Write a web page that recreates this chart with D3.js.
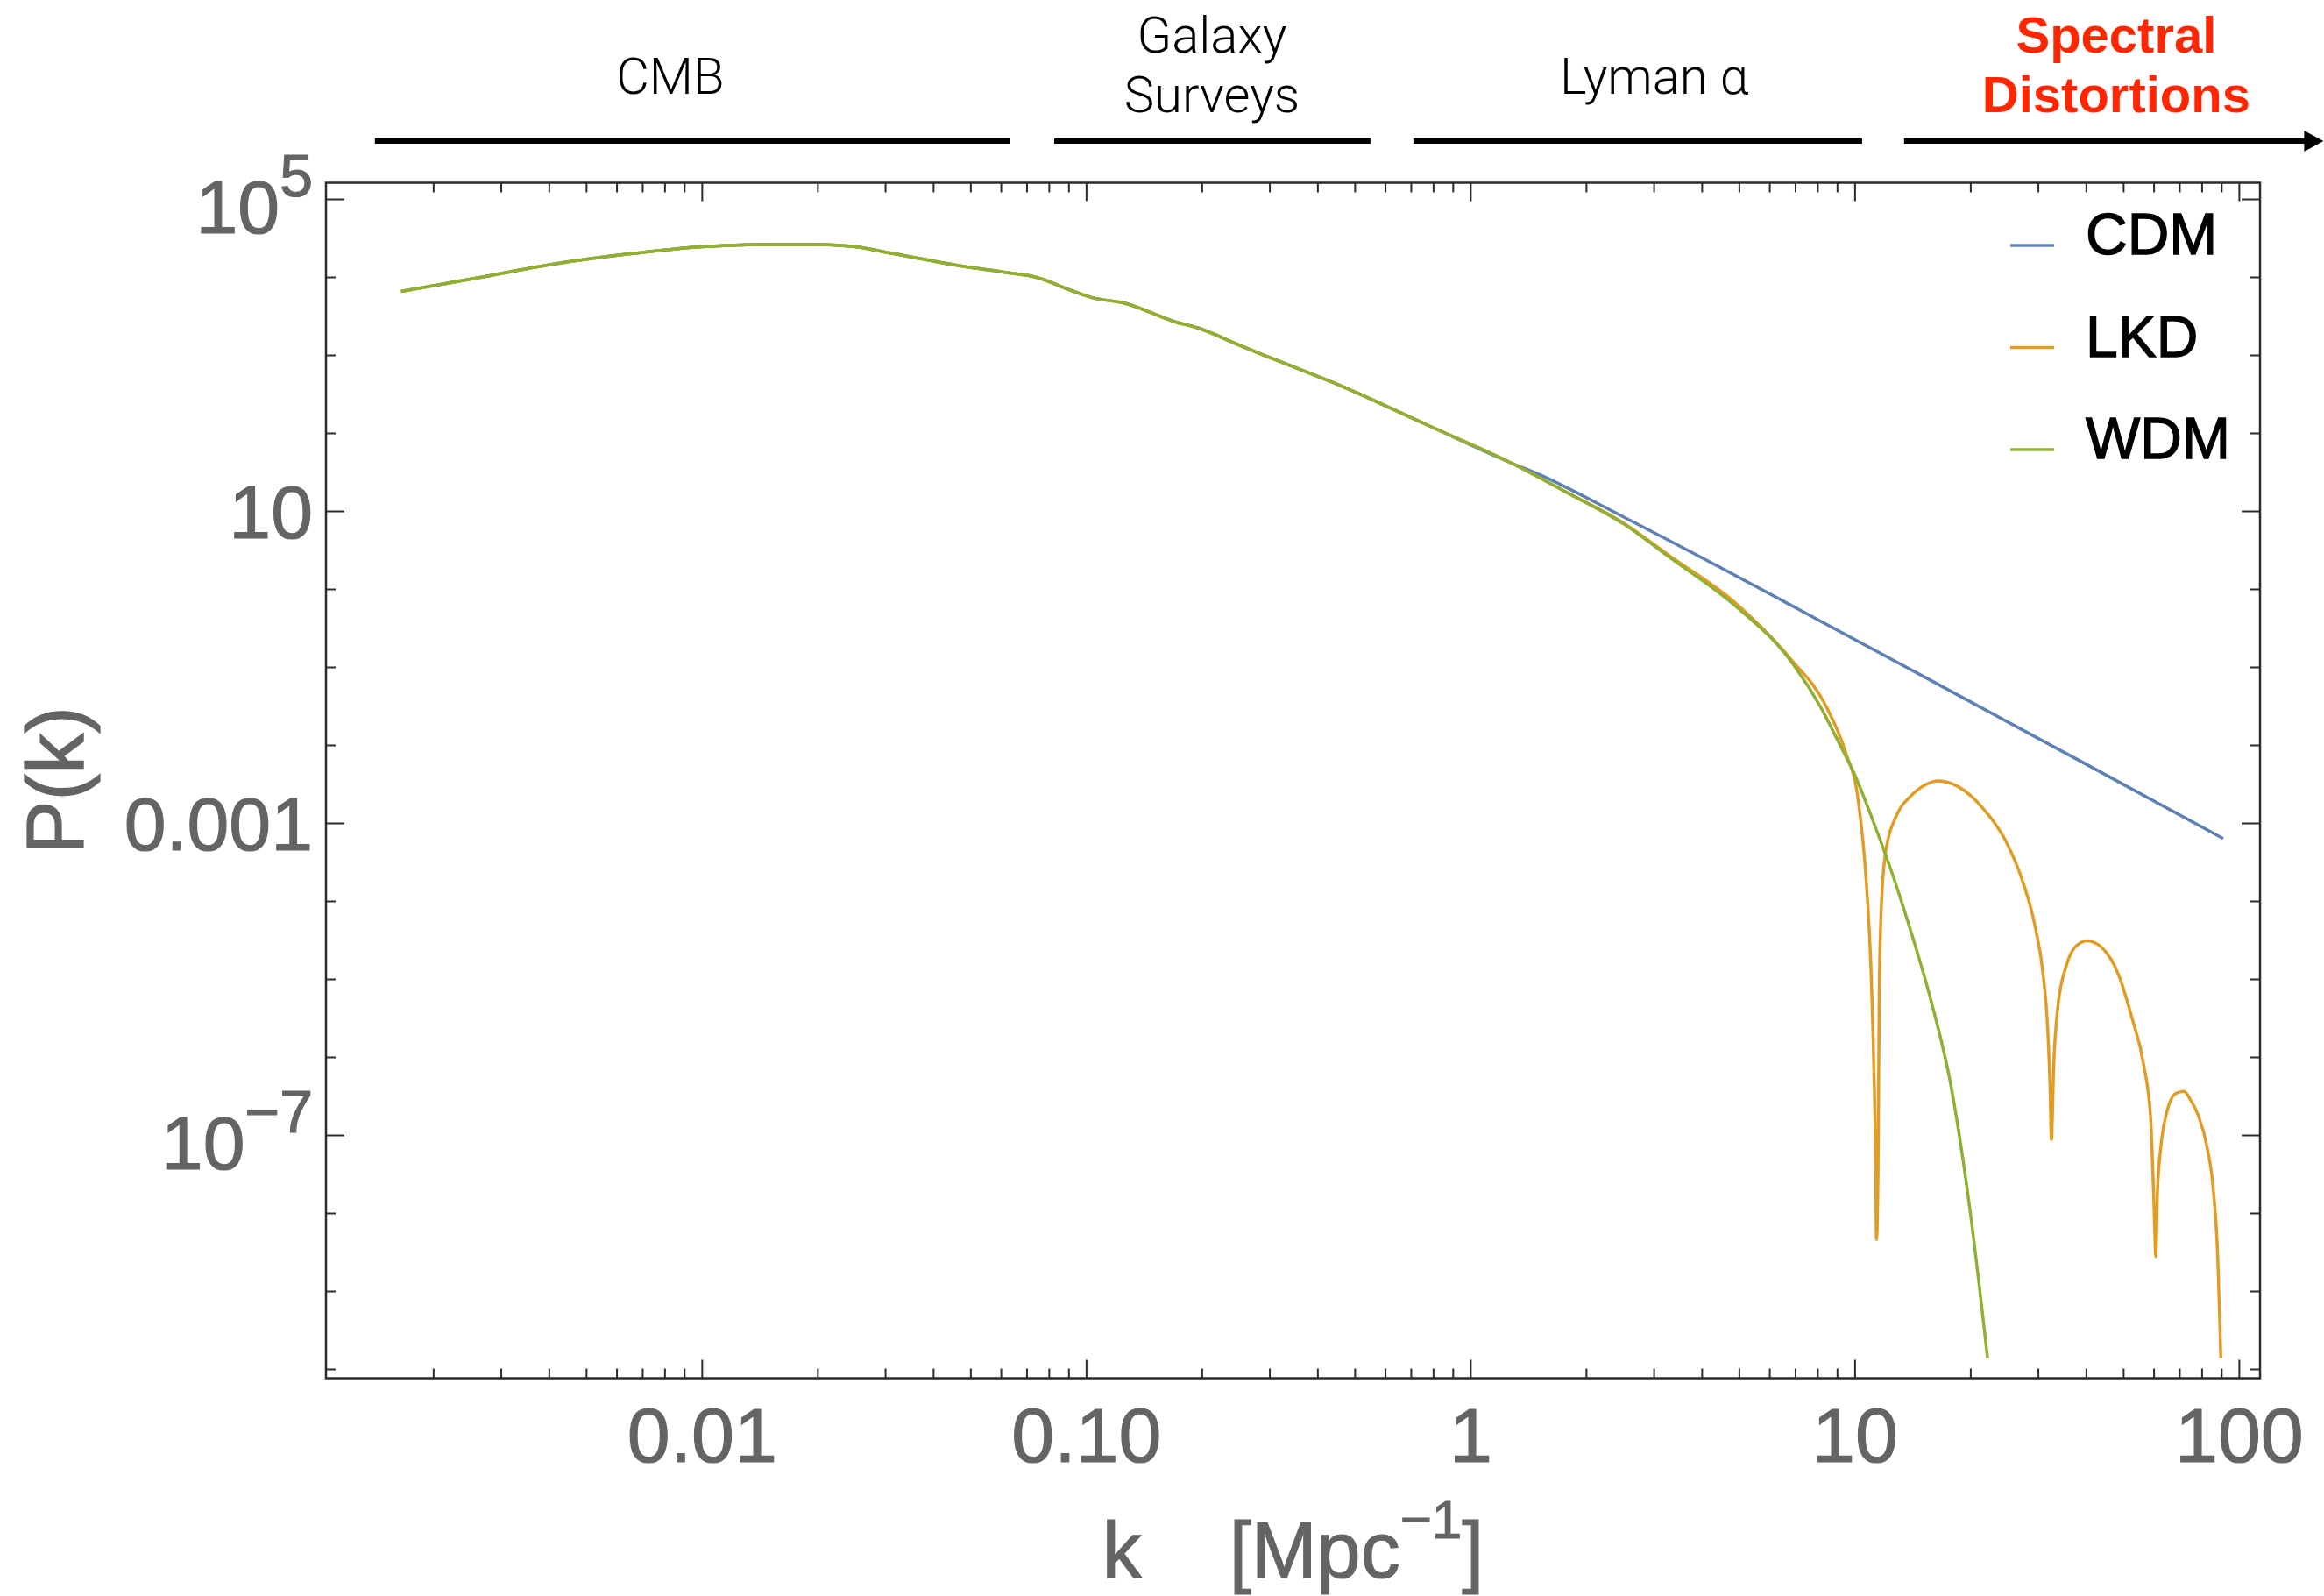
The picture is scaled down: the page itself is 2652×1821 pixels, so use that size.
<!DOCTYPE html>
<html>
<head>
<meta charset="utf-8">
<script src="https://cdn.jsdelivr.net/npm/d3@7"></script>
<style>
  body { margin: 0; background: #fff; }
  .tick line { stroke: #2b2b2b; stroke-width: 2; }
  .axis text { font-family: "Liberation Sans", Arial, sans-serif; fill: #646464; stroke: #646464; stroke-width: 1.2; }
</style>
</head>
<body>
<script>
// k in 1/Mpc, P(k)
// at low k the three models lie on top of each other
var kLow = [1.65e-3, 2.61e-3, 4.09e-3, 6.43e-3, 1.0e-2, 1.42e-2, 2.03e-2, 2.51e-2, 3.19e-2, 4.58e-2, 6.25e-2,
            7.40e-2, 9.16e-2, 0.1033, 0.1262, 0.1706, 0.195, 0.2553, 0.3119, 0.4667, 0.7709, 1.274];
var pLow = [6530, 9730, 14550, 19680, 24380, 26120, 26120, 24380, 19680, 14160, 11320,
            9930, 6700, 5470, 4610, 2655, 2228, 1282, 863, 391, 127, 41.5];

var cdmK = [1.507, 2.489, 4.864, 7.396, 15.49, 39.81, 90.99];
var cdmP = [29.5, 8.51, 1.514, 0.501, 0.0708, 5.75e-3, 6.31e-4];

var lkdK = [1.778, 2.512, 3.311, 4.898, 6.823, 8.356, 9.484, 10.21, 10.74, 11.02,
            11.22, 11.35, 11.40, 11.51, 11.59, 11.69, 11.83, 12.02, 12.30, 12.65,
            13.18, 13.84, 15.28, 16.48, 18.71, 21.73, 24.66, 27.29, 29.44, 30.97,
            31.77, 32.28, 32.51, 32.96, 33.81, 35.56, 37.84, 40.27, 44.06, 48.75,
            52.48, 56.62, 58.88, 59.98, 60.81, 61.38, 62.66, 65.01, 68.39, 71.94,
            74.64, 78.52, 82.60, 85.90, 88.10, 89.13, 89.74];
var lkdP = [17.4, 6.92, 2.63, 0.661, 0.126, 0.0339, 7.94e-3, 2.0e-3, 1.58e-4, 1.48e-5,
            7.59e-7, 3.89e-8, 4.57e-9, 3.89e-8, 6.31e-6, 5.01e-5, 1.78e-4, 3.98e-4, 7.08e-4, 1.05e-3,
            1.58e-3, 2.09e-3, 3.09e-3, 3.47e-3, 2.88e-3, 1.48e-3, 6.03e-4, 1.86e-4, 4.9e-5, 1.10e-5,
            2.51e-6, 3.63e-7, 8.71e-8, 7.59e-7, 4.47e-6, 1.48e-5, 2.69e-5, 3.09e-5, 2.51e-5, 1.10e-5,
            3.39e-6, 7.59e-7, 1.74e-7, 1.86e-8, 2.75e-9, 1.86e-8, 7.08e-8, 2.0e-7, 3.39e-7, 3.63e-7,
            2.88e-7, 1.74e-7, 7.08e-8, 1.86e-8, 2.69e-9, 4.47e-10, 1.38e-10];

var wdmK = [1.778, 2.512, 3.311, 4.898, 6.761, 8.128, 9.120, 10.0, 11.22, 12.59, 14.13, 15.85, 17.78, 19.95, 22.18];
var wdmP = [17.4, 6.76, 2.51, 0.603, 0.126, 0.0316, 0.0105, 4.17e-3, 1.0e-3, 2.09e-4, 3.55e-5, 5.01e-6, 4.47e-7, 1.12e-8, 1.38e-10];

var seriesNames = ["CDM", "LKD", "WDM"];
var seriesColors = ["#5e81b5", "#e19c24", "#8fb032"];

var xMajor = [0.01, 0.1, 1, 10, 100];
var xTickText = ["0.01", "0.10", "1", "10", "100"];
var yMajor = [1e5, 10, 1e-3, 1e-7];
var yTickBase = ["10", "10", "0.001", "10"];
var yTickExp = ["5", "", "", "\u22127"];

// scales probed by each kind of observation (k ranges)
var probeNames = [["CMB"], ["Galaxy", "Surveys"], ["Lyman \u03b1"], ["Spectral", "Distortions"]];
var probeFrom = [1.41e-3, 0.0826, 0.711, 13.45];
var probeTo = [0.0632, 0.5495, 10.46, 166];
var probeLabelK = [8.28e-3, 0.2125, 3.01, 47.95];
var probeColors = ["#000", "#000", "#000", "#ff2600"];

var width = 2652, height = 1821;
var frame = {left: 372, right: 2579, top: 208.5, bottom: 1572.5};

var svg = d3.select("body").append("svg")
  .attr("width", width)
  .attr("height", height);

var x = d3.scaleLog().domain([1.052e-3, 113.5]).range([frame.left, frame.right]);
var y = d3.scaleLog().domain([7.62e-11, 1.614e5]).range([frame.bottom, frame.top]);

var xMinor = x.ticks().filter(function(d) { return xMajor.indexOf(d) < 0 && Math.abs(Math.log10(d) % 1) > 1e-6; });
var yAll = d3.range(-10, 6).map(function(e) { return Math.pow(10, e); });
var yMinor = yAll.filter(function(d) { return yMajor.indexOf(d) < 0; });

function strip(g) { g.select(".domain").remove(); }

// minor ticks, all four sides, pointing inward
svg.append("g").attr("transform", "translate(0," + frame.bottom + ")")
  .call(d3.axisBottom(x).tickValues(xMinor).tickSize(-11).tickFormat("")).call(strip);
svg.append("g").attr("transform", "translate(0," + frame.top + ")")
  .call(d3.axisTop(x).tickValues(xMinor).tickSize(-11).tickFormat("")).call(strip);
svg.append("g").attr("transform", "translate(" + frame.left + ",0)")
  .call(d3.axisLeft(y).tickValues(yMinor).tickSize(-11).tickFormat("")).call(strip);
svg.append("g").attr("transform", "translate(" + frame.right + ",0)")
  .call(d3.axisRight(y).tickValues(yMinor).tickSize(-11).tickFormat("")).call(strip);

// major ticks
var xAxis = svg.append("g").attr("class", "axis")
  .attr("transform", "translate(0," + frame.bottom + ")")
  .call(d3.axisBottom(x).tickValues(xMajor).tickSize(-21).tickPadding(33)
    .tickFormat(function(d, i) { return xTickText[i]; }))
  .call(strip);
xAxis.attr("font-family", null).attr("font-size", null);
xAxis.selectAll("text").attr("font-size", 88);

svg.append("g").attr("transform", "translate(0," + frame.top + ")")
  .call(d3.axisTop(x).tickValues(xMajor).tickSize(-21).tickFormat("")).call(strip);
svg.append("g").attr("transform", "translate(" + frame.right + ",0)")
  .call(d3.axisRight(y).tickValues(yMajor).tickSize(-21).tickFormat("")).call(strip);

var yAxis = svg.append("g").attr("class", "axis")
  .attr("transform", "translate(" + frame.left + ",0)")
  .call(d3.axisLeft(y).tickValues(yMajor).tickSize(-21).tickPadding(15).tickFormat(""))
  .call(strip);
yAxis.attr("font-family", null).attr("font-size", null);
yAxis.selectAll(".tick text").each(function(d, i) {
  var t = d3.select(this).attr("font-size", 86);
  if (yTickExp[i]) {
    t.attr("dy", "0.45em");
    t.append("tspan").text(yTickBase[i]);
    t.append("tspan").attr("font-size", 68).attr("dy", -42).text(yTickExp[i]);
  } else {
    t.attr("dy", "0.36em").text(yTickBase[i]);
  }
});

// frame
svg.append("rect")
  .attr("x", frame.left).attr("y", frame.top)
  .attr("width", frame.right - frame.left).attr("height", frame.bottom - frame.top)
  .attr("fill", "none").attr("stroke", "#2b2b2b").attr("stroke-width", 2.5);

// curves
svg.append("clipPath").attr("id", "plot-clip").append("rect")
  .attr("x", frame.left).attr("y", frame.top)
  .attr("width", frame.right - frame.left).attr("height", frame.bottom - frame.top);

function pairs(ks, ps) {
  return ks.map(function(k, i) { return {k: k, p: ps[i]}; });
}
var series = [
  pairs(kLow.concat(cdmK), pLow.concat(cdmP)),
  pairs(kLow.concat(lkdK), pLow.concat(lkdP)),
  pairs(kLow.concat(wdmK), pLow.concat(wdmP))
];

var line = d3.line()
  .x(function(d) { return x(d.k); })
  .y(function(d) { return y(d.p); })
  .curve(d3.curveMonotoneX);

svg.append("g").attr("clip-path", "url(#plot-clip)")
  .selectAll("path").data(series).enter().append("path")
  .attr("d", line)
  .attr("fill", "none")
  .attr("stroke", function(d, i) { return seriesColors[i]; })
  .attr("stroke-width", 3.5)
  .attr("stroke-linejoin", "round");

// legend
var legend = svg.append("g").selectAll("g").data(seriesNames).enter().append("g")
  .attr("transform", function(d, i) { return "translate(2294," + (290 + i * 116.5) + ")"; });
legend.append("line")
  .attr("x1", 0).attr("x2", 50).attr("y1", -10).attr("y2", -10)
  .attr("stroke", function(d, i) { return seriesColors[i]; })
  .attr("stroke-width", 3.5);
legend.append("text")
  .attr("x", 86)
  .attr("font-family", "Liberation Sans, Arial, sans-serif")
  .attr("font-size", 66)
  .attr("fill", "#000")
  .attr("stroke", "#000").attr("stroke-width", 1.3)
  .text(function(d) { return d; });

// axis titles
var xTitle = svg.append("text")
  .attr("x", (frame.left + frame.right) / 2).attr("y", 1800)
  .attr("text-anchor", "middle")
  .attr("font-family", "Liberation Sans, Arial, sans-serif")
  .attr("font-size", 90).attr("fill", "#646464")
  .attr("stroke", "#646464").attr("stroke-width", 1.2);
xTitle.append("tspan").text("k");
xTitle.append("tspan").attr("dx", 100).text("[Mpc");
xTitle.append("tspan").attr("font-size", 62).attr("dy", -45).text("\u22121");
xTitle.append("tspan").attr("dy", 45).text("]");

svg.append("text")
  .attr("transform", "translate(95," + (frame.top + frame.bottom) / 2 + ") rotate(-90)")
  .attr("text-anchor", "middle")
  .attr("font-family", "Liberation Sans, Arial, sans-serif")
  .attr("font-size", 92).attr("fill", "#646464")
  .attr("stroke", "#646464").attr("stroke-width", 1.2)
  .text("P(k)");

// probe ranges above the plot
var barY = 161;
var probes = svg.append("g").selectAll("g").data(probeNames).enter().append("g");
probes.append("line")
  .attr("x1", function(d, i) { return x(probeFrom[i]); })
  .attr("x2", function(d, i) { return i == probeNames.length - 1 ? x(probeTo[i]) - 20 : x(probeTo[i]); })
  .attr("y1", barY).attr("y2", barY)
  .attr("stroke", "#000").attr("stroke-width", 6);
probes.append("text")
  .attr("x", function(d, i) { return x(probeLabelK[i]); })
  .attr("y", function(d) { return d.length == 1 ? 107 : 60; })
  .attr("text-anchor", "middle")
  .attr("font-family", function(d, i) { return i == 3 ? "Liberation Sans, Arial, sans-serif" : "Roboto, Liberation Sans, sans-serif"; })
  .attr("font-weight", function(d, i) { return i == 3 ? "bold" : 300; })
  .attr("font-size", 58)
  .attr("fill", function(d, i) { return probeColors[i]; })
  .selectAll("tspan").data(function(d) { return d; }).enter().append("tspan")
  .attr("x", function() { return d3.select(this.parentNode).attr("x"); })
  .attr("dy", function(d, j) { return j == 0 ? 0 : 68; })
  .text(function(d) { return d; });

var tipX = x(probeTo[probeTo.length - 1]);
svg.append("path")
  .attr("d", "M" + tipX + "," + barY + "L" + (tipX - 22) + "," + (barY - 12) + "L" + (tipX - 22) + "," + (barY + 12) + "Z")
  .attr("fill", "#000");
</script>
</body>
</html>
